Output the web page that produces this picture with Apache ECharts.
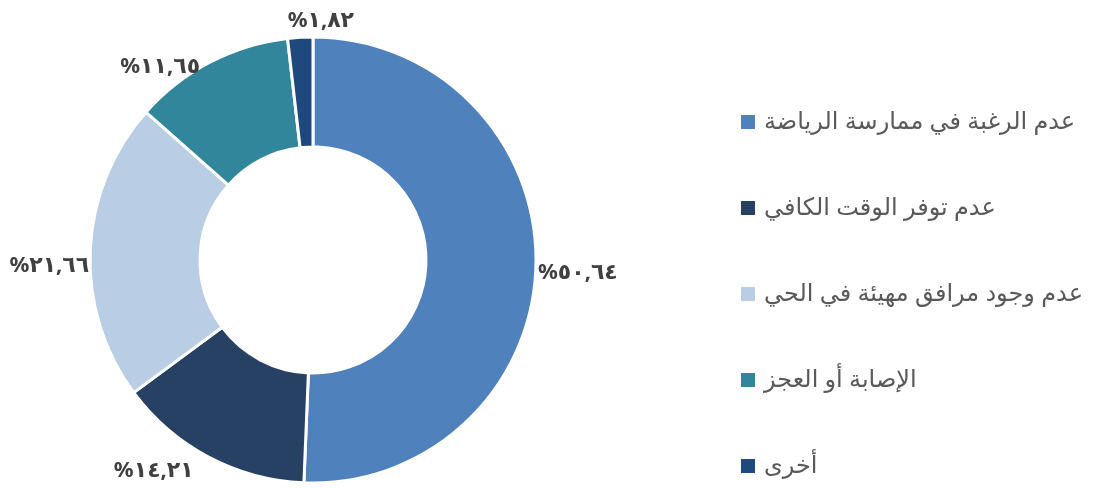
<!DOCTYPE html>
<html>
<head>
<meta charset="utf-8">
<style>
    html, body { margin:0; padding:0; background:#fff; }
    #main { width:1100px; height:489px; }
</style>
<script src="https://cdn.jsdelivr.net/npm/echarts@6/dist/echarts.min.js"></script>
</head>
<body>
<div id="main"></div>
<script>
    // categories and values (percent)
    var names = [
        'عدم الرغبة في ممارسة الرياضة',
        'عدم توفر الوقت الكافي',
        'عدم وجود مرافق مهيئة في الحي',
        'الإصابة أو العجز',
        'أخرى'
    ];
    var values = [50.64, 14.21, 21.66, 11.65, 1.82];
    var valueLabels = ['%٥٠,٦٤', '%١٤,٢١', '%٢١,٦٦', '%١١,٦٥', '%١,٨٢'];
    var colors = ['#4f81bd', '#264164', '#b9cde5', '#31869b', '#1f497d'];

    // small nudges so labels sit where the original has them
    var labelShift = [[-7, 8], [-8, 10], [8, 16], [-3, 8], [59, -13]];

    var pieData = [];
    for (var i = 0; i < names.length; i++) {
        pieData.push({ name: names[i], value: values[i], label: { formatter: valueLabels[i] } });
    }

    var myChart = echarts.init(document.getElementById('main'));
    myChart.setOption({
        animation: false,
        color: colors,
        legend: {
            orient: 'vertical',
            left: 734,
            top: 105,
            height: 380,
            itemWidth: 16,
            itemHeight: 16,
            itemGap: 62,
            icon: 'rect',
            selectedMode: false,
            data: names,
            textStyle: {
                fontSize: 24,
                color: '#595959',
                padding: [0, 0, 0, 3],
                fontFamily: 'Noto Sans, DejaVu Sans, sans-serif'
            }
        },
        series: [{
            type: 'pie',
            center: [313, 260],
            radius: [113, 223],
            startAngle: 90,
            clockwise: true,
            avoidLabelOverlap: false,
            itemStyle: { borderColor: '#fff', borderWidth: 3 },
            label: {
                show: true,
                position: 'outside',
                fontSize: 22,
                fontWeight: 'bold',
                color: '#404040',
                fontFamily: 'Noto Sans, DejaVu Sans, sans-serif'
            },
            labelLine: { show: false, length: 4, length2: 0 },
            labelLayout: function (params) {
                var s = labelShift[params.dataIndex];
                return { dx: s[0], dy: s[1] };
            },
            emphasis: { disabled: true },
            data: pieData
        }]
    });
</script>
</body>
</html>
